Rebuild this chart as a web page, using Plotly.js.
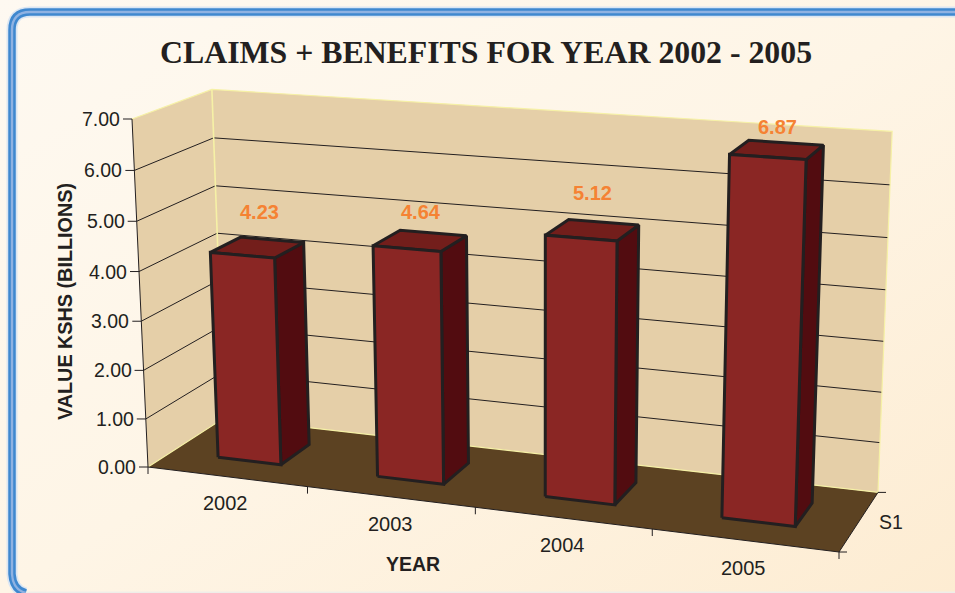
<!DOCTYPE html>
<html>
<head>
<meta charset="utf-8">
<script src="https://cdn.plot.ly/plotly-3.0.1.min.js"></script>
<style>
  html, body { margin: 0; padding: 0; width: 955px; height: 593px; overflow: hidden; }
  #chart { width: 955px; height: 593px; background: linear-gradient(148deg, #fef9f1 0%, #fef5e6 50%, #fdecd2 100%); }
</style>
</head>
<body>
<div id="chart"></div>
<script>
// Yearly claims and benefits, KShs billions
const years = ['2002', '2003', '2004', '2005'];
const values = [4.23, 4.64, 5.12, 6.87];
const valueLabels = ['4.23', '4.64', '5.12', '6.87'];
const valueTicks = [0, 1, 2, 3, 4, 5, 6, 7];
const valueTickLabels = ['0.00', '1.00', '2.00', '3.00', '4.00', '5.00', '6.00', '7.00'];
const valueMax = 7;

// Screen anchors of the 3D box: o front-left floor, u front-right floor,
// w back-left floor, a back-right floor, h front-left top, c back-right top
const box = { o: [148, 467], u: [839, 552], w: [224, 418], a: [878, 492.4], h: [132, 119], c: [892, 135] };

function det3(m) {
  return m[0][0] * (m[1][1] * m[2][2] - m[1][2] * m[2][1])
       - m[0][1] * (m[1][0] * m[2][2] - m[1][2] * m[2][0])
       + m[0][2] * (m[1][0] * m[2][1] - m[1][1] * m[2][0]);
}
function solve3(c1, c2, c3, r) {
  const rows = i => [c1[i], c2[i], c3[i]];
  const M = [rows(0), rows(1), rows(2)];
  const D = det3(M);
  return [0, 1, 2].map(k => det3(M.map((row, i) => row.map((v, j) => (j === k ? r[i] : v)))) / D);
}
const hg = p => [p[0], p[1], 1];
const O = hg(box.o), U = hg(box.u), W = hg(box.w), A = hg(box.a), H = hg(box.h);
const [ka, kc] = solve3(U, W, A.map(v => -v), O);

// Vertical edges converge below the floor: meet the front-left and back-right uprights
const slopeL = (box.o[0] - box.h[0]) / (box.o[1] - box.h[1]);
const slopeR = (box.a[0] - box.c[0]) / (box.a[1] - box.c[1]);
const vanishY = (box.c[0] - slopeR * box.c[1] - box.h[0] + slopeL * box.h[1]) / (slopeL - slopeR);
const kb = (box.o[1] - vanishY) / (box.h[1] - vanishY);

// Perspective projection: u across the years, v = value / valueMax, w into the depth
function project(u, v, w) {
  const out = [0, 1, 2].map(i =>
    O[i] + u * (ka * U[i] - O[i]) + v * (kb * H[i] - O[i]) + w * (kc * W[i] - O[i]));
  return [out[0] / out[2], out[1] / out[2]];
}

const traces = [];
function poly(corners, fill, lineColor, lineWidth) {
  const pts = corners.map(c => project(c[0], c[1], c[2]));
  pts.push(pts[0]);
  traces.push({
    type: 'scatter', mode: 'lines', hoverinfo: 'skip', showlegend: false,
    x: pts.map(p => p[0]), y: pts.map(p => p[1]),
    fill: 'toself', fillcolor: fill,
    line: { color: lineColor, width: lineWidth, shape: 'linear' }
  });
}
function line(corners, color, width) {
  const pts = corners.map(c => project(c[0], c[1], c[2]));
  traces.push({
    type: 'scatter', mode: 'lines', hoverinfo: 'skip', showlegend: false,
    x: pts.map(p => p[0]), y: pts.map(p => p[1]),
    line: { color: color, width: width }
  });
}
function tick(from, dx, dy, color) {
  const p = project(from[0], from[1], from[2]);
  traces.push({
    type: 'scatter', mode: 'lines', hoverinfo: 'skip', showlegend: false,
    x: [p[0], p[0] + dx], y: [p[1], p[1] + dy], line: { color: color, width: 1 }
  });
}

const WALL = '#e5cfa8', FLOOR = '#5c4222', EDGE = '#f6f1a6', INK = '#231f20';

// Walls and floor
poly([[0, 0, 0], [0, 1, 0], [0, 1, 1], [0, 0, 1]], WALL, WALL, 0);
poly([[0, 0, 1], [0, 1, 1], [1, 1, 1], [1, 0, 1]], WALL, WALL, 0);
poly([[0, 0, 0], [1, 0, 0], [1, 0, 1], [0, 0, 1]], FLOOR, FLOOR, 0);

// Gridlines run along the left wall then the back wall
valueTicks.slice(1, -1).forEach(t => {
  const v = t / valueMax;
  line([[0, v, 0], [0, v, 1], [1, v, 1]], INK, 1);
});

// Pale wall edges
line([[0, 1, 0], [0, 1, 1], [1, 1, 1], [1, 0, 1], [0, 0, 1], [0, 0, 0]], EDGE, 1.2);
line([[0, 0, 1], [0, 1, 1]], EDGE, 1.6);

// Axis lines and tick marks
line([[0, 0, 0], [0, 1, 0]], INK, 1);
line([[0, 0, 0], [1, 0, 0], [1, 0, 1]], INK, 1);
valueTicks.forEach(t => tick([0, t / valueMax, 0], -9, 0, INK));
[0, 1, 2, 3, 4].forEach(k => tick([k / years.length, 0, 0], 0, 7, INK));
tick([1, 0, 0], 8, 0, INK);
tick([1, 0, 1], 8, 0, INK);

// Bars, one box per year
const BAR_HALF = 0.05, BAR_W0 = 0.30, BAR_W1 = 0.70;
const slot = 1 / years.length;
values.forEach((val, i) => {
  const c = (i + 0.5) * slot, l = c - BAR_HALF, r = c + BAR_HALF, v = val / valueMax;
  poly([[r, 0, BAR_W0], [r, 0, BAR_W1], [r, v, BAR_W1], [r, v, BAR_W0]], '#520c10', INK, 3);
  poly([[l, v, BAR_W0], [r, v, BAR_W0], [r, v, BAR_W1], [l, v, BAR_W1]], '#731e1b', INK, 3);
  poly([[l, 0, BAR_W0], [r, 0, BAR_W0], [r, v, BAR_W0], [l, v, BAR_W0]], '#8a2624', INK, 3);
});

// Text placement
const TEXT = '#231f20';
const SANS = '"Liberation Sans", Arial, sans-serif';
const annotations = [];
function label(text, x, y, size, opts) {
  annotations.push(Object.assign({
    text: text, x: x, y: y, xref: 'x', yref: 'y', showarrow: false,
    xanchor: 'center', yanchor: 'middle',
    font: { family: SANS, size: size, color: TEXT }
  }, opts || {}));
}
label('<b>CLAIMS + BENEFITS FOR YEAR 2002 - 2005</b>', 486, 52, 31.8,
  { font: { family: '"Liberation Serif", "Times New Roman", serif', size: 31.8, color: TEXT } });
label('<b>VALUE KSHS (BILLIONS)</b>', 65, 302, 19.8, { textangle: -90 });
label('<b>YEAR</b>', 413, 564, 19.5);
label('S1', 891, 522, 19.5);

valueTicks.forEach((t, i) => {
  const p = project(0, t / valueMax, 0);
  label(valueTickLabels[i], p[0] - 10, p[1], 19.5, { xanchor: 'right' });
});
const yearLabelPos = [[225, 503], [390, 524], [562, 545], [743, 568]];
years.forEach((y, i) => label(y, yearLabelPos[i][0], yearLabelPos[i][1], 20));

const valueLabelPos = [[259, 212], [421, 212], [592, 193], [777, 127]];
valueLabels.forEach((s, i) =>
  label('<b>' + s + '</b>', valueLabelPos[i][0], valueLabelPos[i][1], 20,
    { font: { family: SANS, size: 20, color: '#f58233' } }));

// Rounded blue frame, open on the right
const framePath = 'M 26,593 Q 13,590 12,574 L 12,30 Q 12,12 30,12 L 955,12';
const frame = (w, c) => ({ type: 'path', path: framePath, xref: 'x', yref: 'y', layer: 'below',
  line: { color: c, width: w }, fillcolor: 'rgba(0,0,0,0)' });

const layout = {
  width: 955, height: 593,
  margin: { l: 0, r: 0, t: 0, b: 0 },
  paper_bgcolor: 'rgba(0,0,0,0)', plot_bgcolor: 'rgba(0,0,0,0)',
  showlegend: false,
  xaxis: { range: [0, 955], visible: false, fixedrange: true },
  yaxis: { range: [593, 0], visible: false, fixedrange: true },
  shapes: [
    frame(11, '#dbe6f2'), frame(7.5, '#3f88cf'), frame(2.4, '#8fb2e2'),
    { type: 'line', xref: 'x', yref: 'y', layer: 'below', x0: 26, x1: 955, y0: 592.5, y1: 592.5,
      line: { color: '#efeee9', width: 2 } }
  ],
  annotations: annotations
};

Plotly.newPlot('chart', traces, layout, { displayModeBar: false, staticPlot: true });
</script>
</body>
</html>
